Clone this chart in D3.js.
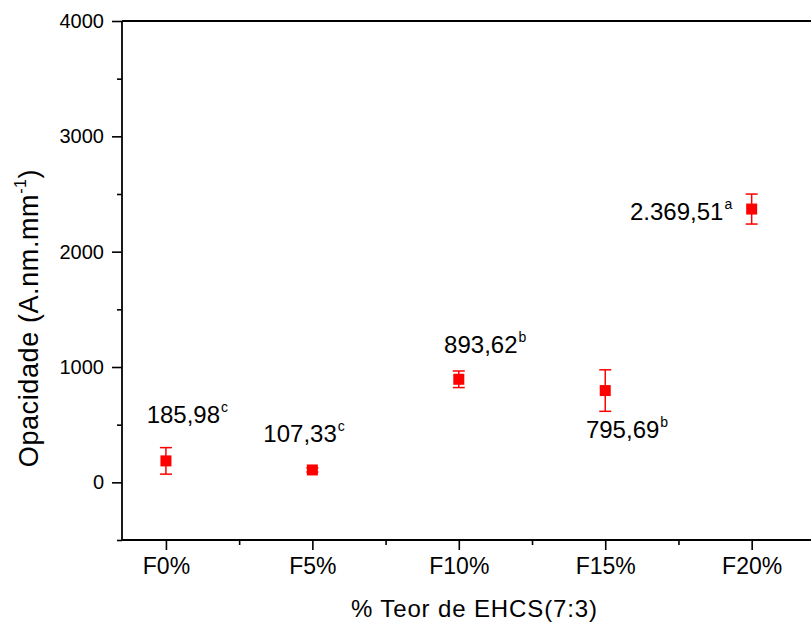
<!DOCTYPE html>
<html>
<head>
<meta charset="utf-8">
<script src="https://cdn.jsdelivr.net/npm/d3@7"></script>
<style>
  html, body { margin: 0; padding: 0; background: #fff; }
  svg { display: block; font-family: "Liberation Sans", Arial, sans-serif; }
</style>
</head>
<body>
<svg id="chart" width="811" height="625"></svg>
<script>
// ---- data ----
const categories = ["F0%", "F5%", "F10%", "F15%", "F20%"];
const xValues = [0, 5, 10, 15, 20];
const means = [185.98, 107.33, 893.62, 795.69, 2369.51];
const errors = [115, 18, 72, 180, 130];
const valueLabels = ["185,98", "107,33", "893,62", "795,69", "2.369,51"];
const letters = ["c", "c", "b", "b", "a"];
const yTicks = [0, 1000, 2000, 3000, 4000];
const yMinorTicks = [-500, 500, 1500, 2500, 3500];
const xMinorTicks = [2.5, 7.5, 12.5, 17.5];

const W = 811, H = 625;
const svg = d3.select("#chart");

const x = d3.scaleLinear().domain([-1.5, 21.5]).range([122, 795.6]);
const y = d3.scaleLinear().domain([-500, 4000]).range([540, 21]);

const axisColor = "#000";

const gx = svg.append("g").attr("transform", `translate(0,${y(-500)})`);
gx.call(d3.axisBottom(x).tickValues(xValues).tickFormat((d, i) => categories[i]).tickSize(10).tickSizeOuter(0).tickPadding(8));
gx.select(".domain").remove();
gx.selectAll(".tick line").attr("stroke", axisColor).attr("stroke-width", 1.6);
gx.selectAll(".tick text").attr("font-size", 23).attr("fill", "#000").attr("font-family", "Liberation Sans, Arial, sans-serif");
const gxm = svg.append("g").attr("transform", `translate(0,${y(-500)})`);
gxm.call(d3.axisBottom(x).tickValues(xMinorTicks).tickFormat("").tickSize(5).tickSizeOuter(0));
gxm.select(".domain").remove();
gxm.selectAll(".tick line").attr("stroke", axisColor).attr("stroke-width", 1.6);

const gy = svg.append("g").attr("transform", `translate(${x(-1.5)},0)`);
gy.call(d3.axisLeft(y).tickValues(yTicks).tickFormat(d3.format("d")).tickSize(10).tickSizeOuter(0).tickPadding(8));
gy.select(".domain").remove();
gy.selectAll(".tick line").attr("stroke", axisColor).attr("stroke-width", 1.6);
gy.selectAll(".tick text").attr("font-size", 20).attr("fill", "#000").attr("font-family", "Liberation Sans, Arial, sans-serif");
const gym = svg.append("g").attr("transform", `translate(${x(-1.5)},0)`);
gym.call(d3.axisLeft(y).tickValues(yMinorTicks).tickFormat("").tickSize(5).tickSizeOuter(0));
gym.select(".domain").remove();
gym.selectAll(".tick line").attr("stroke", axisColor).attr("stroke-width", 1.6);

// axis lines / frame (extends past right edge)
svg.append("line").attr("x1", x(-1.5)).attr("x2", W).attr("y1", y(-500)).attr("y2", y(-500))
  .attr("stroke", axisColor).attr("stroke-width", 1.8);
svg.append("line").attr("x1", x(-1.5)).attr("x2", W).attr("y1", y(4000)).attr("y2", y(4000))
  .attr("stroke", axisColor).attr("stroke-width", 1.8);
svg.append("line").attr("x1", x(-1.5)).attr("x2", x(-1.5)).attr("y1", y(4000)).attr("y2", y(-500))
  .attr("stroke", axisColor).attr("stroke-width", 1.8);

// data
const data = xValues.map((v, i) => ({ x: v, m: means[i], e: errors[i], lab: valueLabels[i], let: letters[i] }));
const red = "#ff0000";
const cap = 6;
const eg = svg.append("g");
data.forEach(d => {
  const cx = x(d.x);
  eg.append("line").attr("x1", cx).attr("x2", cx).attr("y1", y(d.m + d.e)).attr("y2", y(d.m - d.e))
    .attr("stroke", red).attr("stroke-width", 1.5);
  [d.m + d.e, d.m - d.e].forEach(v => {
    eg.append("line").attr("x1", cx - cap).attr("x2", cx + cap).attr("y1", y(v)).attr("y2", y(v))
      .attr("stroke", red).attr("stroke-width", 1.5);
  });
  const s = 11;
  eg.append("rect").attr("x", cx - s / 2).attr("y", y(d.m) - s / 2).attr("width", s).attr("height", s).attr("fill", red);
});

// value labels (offsets relative to each point)
const labelOffsets = [[-19.3, -37.6], [-49, -28], [-14.7, -26.7], [-19.3, 47.7], [-121.7, 10.5]];
data.forEach((d, i) => {
  const t = svg.append("text")
    .attr("x", x(d.x) + labelOffsets[i][0])
    .attr("y", y(d.m) + labelOffsets[i][1])
    .attr("font-size", 24).attr("fill", "#000");
  t.append("tspan").text(d.lab);
  t.append("tspan").attr("font-size", 14).attr("dx", 1).attr("dy", -11).text(d.let);
});

// axis titles
svg.append("text").attr("x", 474).attr("y", 617).attr("text-anchor", "middle")
  .attr("font-size", 24).attr("textLength", 246).attr("lengthAdjust", "spacing")
  .attr("fill", "#000").text("% Teor de EHCS(7:3)");

const yt = svg.append("text").attr("transform", "translate(38,318) rotate(-90)")
  .attr("text-anchor", "middle").attr("font-size", 27).attr("letter-spacing", 0.6).attr("fill", "#000");
yt.append("tspan").text("Opacidade (A.nm.mm");
yt.append("tspan").attr("font-size", 16).attr("dy", -12).text("-1");
yt.append("tspan").attr("dy", 12).text(")");
</script>
</body>
</html>
